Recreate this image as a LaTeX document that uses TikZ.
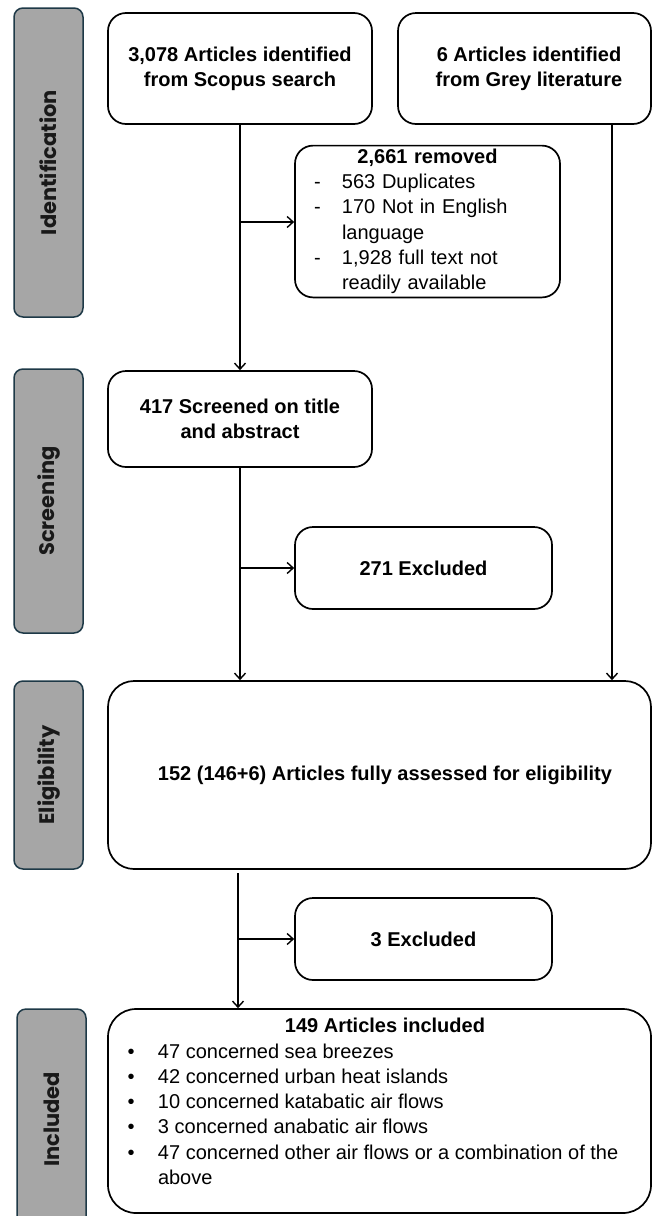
\documentclass[tikz,border=0pt]{standalone}
\usepackage{fontspec}
\setmainfont{Liberation Sans}
\newfontfamily\phasefont{Poppins}
\usepackage{array}
\usetikzlibrary{arrows.meta}
\definecolor{phasefill}{HTML}{A6A6A6}
\definecolor{phaseborder}{HTML}{1E3947}
\begin{document}
\begin{tikzpicture}[x=1pt,y=-1pt,
  box/.style={draw=black, line width=1.7pt, rounded corners=18pt, fill=white, inner sep=0pt, align=center,
    font=\fontsize{20}{25.3}\selectfont},
  boldbox/.style={box, font=\fontsize{20}{25.3}\selectfont\bfseries},
  phase/.style={draw=phaseborder, fill=phasefill, line width=1.5pt, rounded corners=9pt, inner sep=0pt,
    rotate=90, minimum height=69pt, text=black!90,
    font=\phasefont\bfseries\fontsize{21}{23}\selectfont},
  conn/.style={line width=1.4pt, -{Straight Barb[length=6pt,width=11pt,line width=1.4pt]}}
]
\clip (0,0) rectangle (652,1216);
\fill[white] (0,0) rectangle (652,1216);

% phase labels
\node[phase, minimum width=309pt] (pid) at (48.5,162.5) {Identification};
\node[phase, minimum width=264pt] (pscr) at (48.5,501) {Screening};
\node[phase, minimum width=188pt] (pel) at (48.5,775) {Eligibility};
\node[phase, minimum width=221pt] (pin) at (51.5,1119.5) {Included};

% boxes
\node[boldbox, minimum width=264pt, minimum height=111pt] (scopus) at (240,68.5)
  {3,078 Articles identified\\from Scopus search};
\node[boldbox, minimum width=253pt, minimum height=111pt] (grey) at (524.5,68.5)
  {\hspace*{9pt}6 Articles identified\\\hspace*{9pt}from Grey literature};
\node[box, text width=227pt, align=left, inner xsep=19pt, inner ysep=0pt, minimum height=151pt] (rem) at (427.5,221.5)
  {\begin{tabular}{@{}p{28pt}@{}p{199pt}@{}}
   \multicolumn{2}{@{}l@{}}{\makebox[227pt]{\bfseries 2,661 removed}}\\
   - & 563 Duplicates\\
   - & 170 Not in English\\
     & language\\
   - & 1,928 full text not\\
     & readily available
   \end{tabular}};
\node[boldbox, minimum width=264pt, minimum height=96pt] (s417) at (240,419)
  {417 Screened on title\\and abstract};
\node[boldbox, minimum width=257pt, minimum height=82pt] (ex271) at (423.5,568) {271 Excluded};
\node[boldbox, rounded corners=26pt, minimum width=543pt, minimum height=188pt] (elig) at (379.5,775)
  {\hspace*{11pt}152 (146+6) Articles fully assessed for eligibility};
\node[boldbox, minimum width=257pt, minimum height=82pt] (ex3) at (423.5,939) {3 Excluded};
\node[box, rounded corners=28pt, align=left, minimum width=543pt, minimum height=204pt] (incl) at (379.5,1111)
  {\parbox[c][204pt][t]{543pt}{\vspace*{6pt}\hspace*{19.5pt}%
   \begin{tabular}{@{}p{30.5pt}@{}p{480pt}@{}}
   \multicolumn{2}{@{}l@{}}{\makebox[515pt]{\bfseries 149 Articles included}}\\
   \textbullet & 47 concerned sea breezes\\
   \textbullet & 42 concerned urban heat islands\\
   \textbullet & 10 concerned katabatic air flows\\
   \textbullet & 3 concerned anabatic air flows\\
   \textbullet & 47 concerned other air flows or a combination of the\\
     & above
   \end{tabular}}};

% connectors
\coordinate (j1) at (240,222);
\coordinate (g1) at (612,124);
\coordinate (j2) at (240,568);
\coordinate (e1) at (238,873);
\coordinate (j3) at (238,939);
\draw[conn] (scopus.south) -- (s417.north);
\draw[conn] (j1) -- (j1 -| rem.west);
\draw[conn] (g1) -- (g1 |- elig.north);
\draw[conn] (s417.south) -- (s417.south |- elig.north);
\draw[conn] (j2) -- (j2 -| ex271.west);
\draw[conn] (e1) -- (e1 |- incl.north);
\draw[conn] (j3) -- (j3 -| ex3.west);
\end{tikzpicture}
\end{document}
